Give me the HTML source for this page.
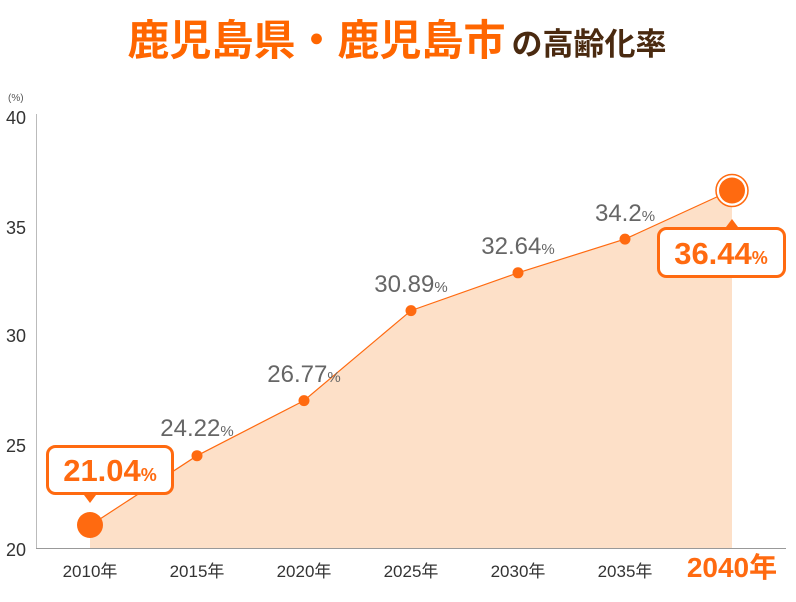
<!DOCTYPE html>
<html><head><meta charset="utf-8"><style>
body{margin:0;background:#fff;}
svg text{font-family:"Liberation Sans","Noto Sans CJK JP",sans-serif;}
</style></head><body>
<svg width="796" height="597" viewBox="0 0 796 597" xmlns="http://www.w3.org/2000/svg">
<text x="397" y="55" text-anchor="middle" font-weight="bold"><tspan font-size="42" fill="#ff6600">鹿児島県・鹿児島市</tspan><tspan font-size="31" fill="#4a2a10" dx="6">の高齢化率</tspan></text>
<text x="8" y="101" font-size="10" fill="#555">(%)</text>
<g font-size="18" fill="#333">
<text x="6" y="124">40</text><text x="6" y="234">35</text><text x="6" y="342">30</text><text x="6" y="452">25</text><text x="6" y="556">20</text>
</g>
<line x1="36.5" y1="114" x2="36.5" y2="548" stroke="#bbb"/>
<line x1="36" y1="548.5" x2="786" y2="548.5" stroke="#999"/>
<polygon points="90,525.5 197,455.7 304,400.6 411,310.6 518,272.8 625,239.1 732,190 732,548 90,548" fill="#fde0c8"/>
<polyline points="90,525.5 197,455.7 304,400.6 411,310.6 518,272.8 625,239.1 732,190" fill="none" stroke="#ff6a10" stroke-width="1.2"/>
<g fill="#ff6a10">
<circle cx="197" cy="455.7" r="5.5"/><circle cx="304" cy="400.6" r="5.5"/><circle cx="411" cy="310.6" r="5.5"/><circle cx="518" cy="272.8" r="5.5"/><circle cx="625" cy="239.1" r="5.5"/>
<circle cx="90" cy="525" r="13"/>
</g>
<circle cx="732" cy="190.5" r="16" fill="#fff" stroke="#ff6a10" stroke-width="1.5"/>
<circle cx="732" cy="190.5" r="13" fill="#ff6a10"/>
<g font-size="24" fill="#666" text-anchor="middle">
<text x="197" y="436">24.22<tspan font-size="15">%</tspan></text>
<text x="304" y="382">26.77<tspan font-size="15">%</tspan></text>
<text x="411" y="292">30.89<tspan font-size="15">%</tspan></text>
<text x="518" y="254">32.64<tspan font-size="15">%</tspan></text>
<text x="625" y="221">34.2<tspan font-size="15">%</tspan></text>
</g>
<rect x="47.5" y="446.5" width="125" height="47" rx="8" fill="#fff" stroke="#ff6a10" stroke-width="3"/>
<polygon points="84,495 96,495 90,503" fill="#ff6a10"/>
<text x="110" y="481" text-anchor="middle" font-size="31" font-weight="bold" fill="#ff6a10">21.04<tspan font-size="18">%</tspan></text>
<rect x="658.5" y="228.5" width="126" height="48" rx="8" fill="#fff" stroke="#ff6a10" stroke-width="3"/>
<polygon points="726,227 738,227 732,219" fill="#ff6a10"/>
<text x="721" y="264" text-anchor="middle" font-size="31" font-weight="bold" fill="#ff6a10">36.44<tspan font-size="18">%</tspan></text>
<g font-size="17" fill="#333" text-anchor="middle">
<text x="90" y="577">2010年</text><text x="197" y="577">2015年</text><text x="304" y="577">2020年</text><text x="411" y="577">2025年</text><text x="518" y="577">2030年</text><text x="625" y="577">2035年</text>
</g>
<text x="732" y="577" text-anchor="middle" font-size="28" font-weight="bold" fill="#ff6a10">2040年</text>
</svg>
</body></html>
